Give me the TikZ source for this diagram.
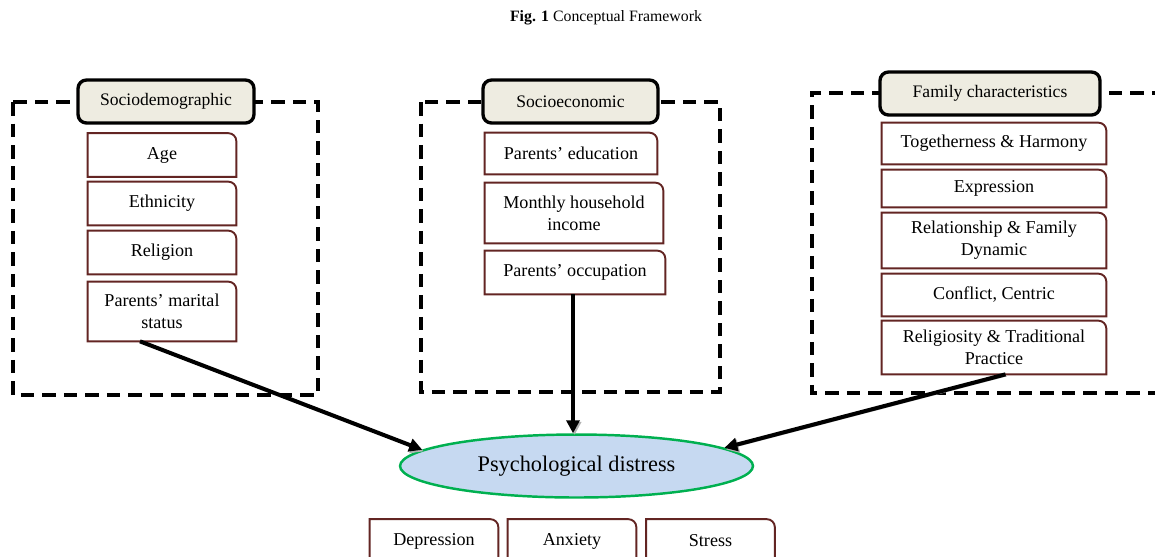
\documentclass[tikz,border=0pt]{standalone}
\usepackage{fontspec}
\setmainfont{Liberation Serif}
\usepackage{xcolor}
\usetikzlibrary{shapes, positioning, arrows.meta}

\definecolor{boxred}{RGB}{99,37,35}
\definecolor{headfill}{RGB}{238,236,225}
\definecolor{distfill}{RGB}{198,217,241}
\definecolor{distline}{RGB}{0,176,80}

\tikzset{
    dashbox/.style={line width=1.9pt, dash pattern=on 0.27cm off 0.16cm},
    header/.style={draw, line width=1.9pt, rounded corners=0.17cm, fill=headfill,
        inner sep=0pt, font=\fontsize{10}{12}\selectfont},
    itembox/.style={align=center, inner sep=0pt, font=\fontsize{10.3}{12.5}\selectfont},
    itemline/.style={draw=boxred, line width=1.1pt},
    arrowline/.style={line width=2.3pt, -{Triangle[length=0.26cm, width=0.26cm]},
        preaction={draw=black!30, transform canvas={xshift=0.9pt, yshift=-0.9pt}}},
}

\begin{document}
\begin{tikzpicture}[x=0.02cm, y=-0.02cm]
        \useasboundingbox (0, 0) rectangle (1155, 556);
        \clip (0, 0) rectangle (1155, 556);

        \node (title) at (606, 18) {\fontsize{9}{11}\selectfont\textbf{Fig. 1} Conceptual Framework};

        % dashed frames
        \draw[dashbox] (13, 102) rectangle (318, 395);
        \draw[dashbox] (421, 102) rectangle (720, 392);
        \draw[dashbox] (1165, 93) -- (812, 93) -- (812, 393) -- (1165, 393);

        % headers
        \node[header, minimum width=3.52cm, minimum height=0.86cm] (socdem) at (166, 101.5) {Sociodemographic};
        \node[header, minimum width=3.5cm, minimum height=0.86cm] (soceco) at (570.5, 101.5) {Socioeconomic};
        \node[header, minimum width=4.4cm, minimum height=0.86cm] (family) at (990, 93.5) {Family characteristics};

        % sociodemographic
        \node[itembox, minimum width=2.96cm, minimum height=0.86cm] (age) at (162, 155) {Age};
        \node[itembox, minimum width=2.96cm, minimum height=0.86cm] (eth) at (162, 203.5) {Ethnicity};
        \node[itembox, minimum width=2.96cm, minimum height=0.86cm] (rel) at (162, 252.5) {Religion};
        \node[itembox, minimum width=2.96cm, minimum height=1.18cm] (mar) at (162, 311.5) {Parents’ marital\\status};

        % socioeconomic
        \node[itembox, minimum width=3.44cm, minimum height=0.82cm] (edu) at (571, 153.5) {Parents’ education};
        \node[itembox, minimum width=3.56cm, minimum height=1.2cm] (inc) at (574, 213) {Monthly household\\income};
        \node[itembox, minimum width=3.6cm, minimum height=0.86cm] (occ) at (575, 272.5) {Parents’ occupation};

        % family characteristics
        \node[itembox, minimum width=4.48cm, minimum height=0.82cm] (tog) at (994, 143.5) {Togetherness \& Harmony};
        \node[itembox, minimum width=4.48cm, minimum height=0.74cm] (exp) at (994, 188.5) {Expression};
        \node[itembox, minimum width=4.48cm, minimum height=1.1cm] (rfd) at (994, 240.5) {Relationship \& Family\\Dynamic};
        \node[itembox, minimum width=4.48cm, minimum height=0.84cm] (con) at (994, 295) {Conflict, Centric};
        \node[itembox, minimum width=4.48cm, minimum height=1.06cm] (rtp) at (994, 347.5) {Religiosity \& Traditional\\Practice};

        % outcome
        \node[ellipse, draw=distline, fill=distfill, line width=1.4pt, minimum width=7.06cm, minimum height=1.26cm,
            inner sep=0pt, font=\fontsize{12.7}{15}\selectfont] (psy) at (576.5, 466) {Psychological distress};

        \node[itembox, minimum width=2.56cm, minimum height=0.86cm] (dep) at (434, 541) {Depression};
        \node[itembox, minimum width=2.56cm, minimum height=0.86cm] (anx) at (572, 541) {Anxiety};
        \node[itembox, minimum width=2.56cm, minimum height=0.86cm] (str) at (710.5, 541) {Stress};

        % item outlines, top right corner rounded
        \foreach \n in {age, eth, rel, mar, edu, inc, occ, tog, exp, rfd, con, rtp, dep, anx, str} {
            \draw[itemline] (\n.south west) -- (\n.north west) -- ([xshift=-0.16cm]\n.north east)
                arc[start angle=90, end angle=0, radius=0.16cm] -- (\n.south east) -- cycle;
        }

        % arrows
        \coordinate (marout) at ([xshift=-0.44cm]mar.south);
        \coordinate (occout) at ([xshift=-0.04cm]occ.south);
        \coordinate (rtpout) at ([xshift=0.23cm]rtp.south);
        \draw[arrowline] (marout) -- (psy.174);
        \draw[arrowline] (occout) -- (occout |- psy.north);
        \draw[arrowline] (rtpout) -- (psy.7);
    \end{tikzpicture}
\end{document}
